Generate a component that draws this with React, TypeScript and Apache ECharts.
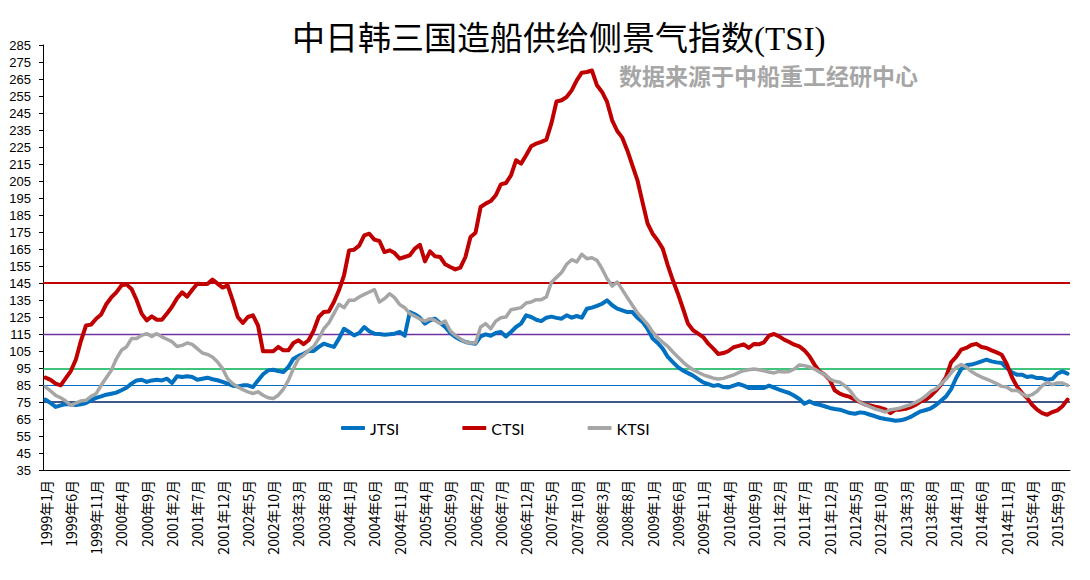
import React, { useEffect, useRef } from "react";
import * as echarts from "echarts";

const startYear = 1999;
const monthCount = 203;
const categories: string[] = [];
for (let i = 0; i < monthCount; i++) {
  categories.push(`${startYear + Math.floor(i / 12)}年${(i % 12) + 1}月`);
}

const jtsi = [
  76.4, 74.4, 72.1, 73, 73.8, 73.6, 73.2, 73.6, 74.4, 76, 77.4, 78.3,
  79.3, 79.9, 80.5, 81.9, 83.4, 85.8, 87.7, 88.1, 86.8, 87.7, 88.1, 87.7,
  88.7, 86.2, 90.1, 89.7, 90.1, 89.7, 88.1, 88.7, 89.3, 88.4, 87.8, 86.8,
  85.8, 84.6, 84.2, 84.8, 84.8, 83.8, 87.7, 91.3, 93.6, 94, 93.2, 92.6,
  95.6, 100.5, 102.1, 103.4, 105, 105, 107.4, 109.3, 108.3, 107.4, 112.3, 118.1,
  116.2, 114.2, 115.6, 119.1, 116.6, 115.2, 115, 114.6, 114.8, 115.2, 116.2, 114,
  127.9, 126.6, 124.6, 121.1, 123, 124, 121.5, 119.1, 115.6, 113.2, 111.7, 110.3,
  109.7, 109.3, 113.6, 114.8, 114, 115.6, 116.2, 113.6, 116.2, 119.1, 121.1, 126,
  125, 123.4, 122.6, 124.6, 125.2, 124.5, 124, 126, 124.6, 125.6, 124.6, 129.9,
  130.5, 131.5, 132.8, 134.8, 131.9, 129.9, 128.9, 127.9, 127.9, 124.6, 122.1, 118.1,
  112.3, 109.7, 106.4, 101.5, 98.5, 95.5, 93.5, 92, 90.5, 88.5, 86.5, 85.5,
  84.5, 85, 83.8, 83.6, 84.6, 85.6, 84.6, 83.2, 83.2, 83.2, 83.2, 84.6,
  83.4, 82.3, 81.3, 80.3, 78.7, 76.8, 74, 75.4, 74, 73.4, 72.5, 71.5,
  70.9, 70.5, 69.5, 68.5, 68.1, 68.9, 68.5, 67.5, 66.6, 65.6, 65, 64.6,
  64, 64.2, 65, 66.2, 67.9, 69.5, 70.3, 71.3, 73.2, 75.8, 78.3, 82.6,
  89.1, 94.4, 96.6, 97, 97.9, 98.9, 99.9, 98.9, 98.3, 97.9, 95, 92.5,
  91.1, 91.1, 89.7, 90.1, 89.1, 89.1, 88.1, 88.5, 91.7, 93, 91.7,
];

const ctsi = [
  89.3, 88, 85.8, 84.8, 89, 93.2, 100, 111, 120, 120.5, 124, 126.5,
  132.5, 136.5, 139.5, 143.5, 144.2, 141.5, 135, 127, 123, 125.4, 123.4, 123.4,
  127, 131, 136, 139.5, 137, 141, 144.6, 144.4, 144.4, 147, 144.6, 142.3,
  143.6, 134.8, 125, 121.5, 125, 126, 120, 104.8, 104.8, 104.8, 107.4, 105.4,
  105.4, 109.7, 111.3, 109, 111.3, 117, 125, 128, 128.3, 133.8, 140.7, 149.5,
  164.2, 164.6, 167, 173, 174, 170.5, 169.7, 163.2, 164.2, 162.6, 159.3, 160.3,
  161.3, 165.2, 167.5, 157.7, 163.6, 160.7, 160.3, 156, 154.4, 153, 154, 160.3,
  172, 174.6, 189.7, 191.7, 193.2, 196.6, 203, 203.8, 208.3, 217.2, 215.2, 220.1,
  225.4, 227, 228, 229.3, 239, 251.8, 252.5, 254.4, 258.3, 264.2, 268.7, 269.1,
  270, 261.3, 257.4, 251.5, 240.7, 234.4, 230.5, 223, 214.2, 205.4, 192.6, 180,
  174, 170, 165.2, 155.4, 146.6, 138.7, 130, 121, 117.2, 115.2, 113.2, 109.3,
  106.4, 103.2, 103.8, 105, 107.2, 108, 108.9, 106.8, 109.1, 108.9, 110.1, 114,
  115, 113.6, 111.7, 110.3, 108.7, 107.7, 105.4, 101.9, 97, 93, 91.1, 88.1,
  81.9, 79.9, 78.8, 78, 76.4, 74.9, 73.5, 72.9, 72.2, 71.6, 70.6, 68.5,
  70.5, 70.5, 71, 72, 73.4, 75.4, 76.4, 78.7, 81.7, 85.2, 89.7, 98.3,
  101.5, 105.8, 106.8, 108.5, 109.2, 107.4, 106.8, 105.4, 104.2, 102.8, 97.4, 89.7,
  84.2, 80.3, 77.4, 73.4, 70.5, 68.5, 67.5, 69.1, 70.1, 72.5, 76.4,
];

const ktsi = [
  83.8, 81.5, 78.9, 77.5, 75.6, 73, 74.4, 75.6, 76, 78.3, 79.9, 84.8,
  89.3, 93.6, 100.4, 105.4, 107.4, 112.3, 112.3, 114.2, 115.2, 113.6, 115.2, 113.3,
  111.9, 110.5, 107.7, 108.3, 109.7, 108.9, 106.4, 103.8, 103, 101.5, 98.5, 94.6,
  88.7, 85.8, 83.8, 82.3, 81, 80, 81, 79, 77.5, 77, 79, 82.5,
  87.7, 94.6, 100.5, 102.5, 105.4, 107.7, 112.3, 118.1, 121.5, 127, 132.5, 130.5,
  134.8, 134.8, 136.8, 138.3, 139.7, 141.1, 133.8, 135.8, 138.7, 136.4, 132.3, 130.5,
  127, 125.4, 123.8, 122.6, 124, 123, 121.1, 122.6, 116.8, 114.2, 112.1, 110.3,
  109.7, 109.7, 119.1, 121.1, 118.1, 122.6, 124.6, 125, 129.3, 129.9, 130.5, 133.2,
  133.8, 135.2, 135.2, 136.8, 145.5, 148.3, 151.2, 156, 158.7, 157.4, 161.9, 159.3,
  159.9, 158.3, 153.4, 147.5, 143.2, 145.6, 141.1, 136.4, 131.9, 127.4, 124, 120.7,
  116.2, 112.8, 110.1, 107.7, 104.4, 101.5, 98.5, 96, 94, 92.5, 91, 90,
  89, 88.5, 88.9, 89.9, 90.9, 92.3, 93.4, 94, 94.4, 94, 93.4, 92.6,
  92.1, 93, 92.6, 93, 94.4, 96.8, 96.4, 95.6, 94.4, 92.6, 91.1, 88.5,
  87.2, 86.6, 84.6, 81.7, 77.7, 74.8, 73.4, 72.1, 70.9, 70.1, 69.1, 70.5,
  70.9, 71.5, 72.5, 73.4, 74.8, 76.4, 78.5, 81.3, 82.8, 85.6, 88.5, 92.1,
  95.4, 97, 95.6, 93, 91.1, 89.7, 88.5, 87.2, 85.8, 84.2, 83.8, 81.7,
  81.9, 79.9, 78.3, 79.3, 81.3, 84.6, 86.6, 85.2, 86.2, 86.2, 84.8,
];

const refValues = [145, 115, 94.5, 85, 75];
const refColors = ["#C00000", "#7030A0", "#00B050", "#0070C0", "#002060"];
const refWidths = [2, 1.3, 1.5, 1, 1.5];

const seriesNames = ["JTSI", "CTSI", "KTSI"];
const seriesColors = ["#0070C0", "#C00000", "#A6A6A6"];

const titleText = "中日韩三国造船供给侧景气指数(TSI)";
const sourceText = "数据来源于中船重工经研中心";

export default function App() {
  const ref = useRef<HTMLDivElement>(null);
  useEffect(() => {
    if (!ref.current) return;
    const chart = echarts.init(ref.current, null, { renderer: "svg" });
    const datas = [jtsi, ctsi, ktsi];
    chart.setOption({
      animation: false,
      backgroundColor: "#ffffff",
      grid: { left: 43, right: 20, top: 45, bottom: 110, containLabel: false },
      legend: {
        data: seriesNames,
        left: 341,
        top: 420,
        padding: 0,
        itemWidth: 24,
        itemHeight: 4,
        itemGap: 63,
        icon: "roundRect",
        textStyle: { fontSize: 16, fontFamily: "Lato", color: "#000" },
      },
      graphic: [
        {
          type: "text",
          left: 292,
          top: 22,
          style: {
            text: titleText,
            font: '33px "Liberation Serif", "Noto Sans CJK SC"',
            fill: "#000",
          },
        },
        {
          type: "text",
          left: 619,
          top: 63,
          style: {
            text: sourceText,
            font: 'bold 23px "Noto Sans CJK SC"',
            fill: "#A6A6A6",
          },
        },
      ],
      xAxis: {
        type: "category",
        data: categories,
        boundaryGap: true,
        axisLine: { lineStyle: { color: "#000", width: 1 } },
        axisTick: { interval: 4, length: 5, lineStyle: { color: "#000" } },
        axisLabel: {
          interval: 4,
          rotate: 90,
          margin: 10,
          fontSize: 14,
          fontFamily: "Noto Sans CJK SC",
          color: "#000",
        },
      },
      yAxis: {
        type: "value",
        min: 35,
        max: 285,
        interval: 10,
        axisLine: { show: true, lineStyle: { color: "#000" } },
        axisTick: { show: true, length: 4, lineStyle: { color: "#000" } },
        splitLine: { show: false },
        axisLabel: { fontSize: 13, fontFamily: "Liberation Sans", color: "#000", margin: 12 },
      },
      series: seriesNames.map((name, k) => ({
        name,
        type: "line",
        data: datas[k],
        symbol: "none",
        z: 3 + k,
        lineStyle: { color: seriesColors[k], width: k === 2 ? 3.5 : 4, join: "round", cap: "round" },
        itemStyle: { color: seriesColors[k] },
        markLine:
          k === 0
            ? {
                silent: true,
                symbol: "none",
                z: 1,
                label: { show: false },
                data: refValues.map((v, j) => ({
                  yAxis: v,
                  lineStyle: { color: refColors[j], width: refWidths[j], type: "solid" },
                })),
              }
            : undefined,
      })),
    });
    return () => chart.dispose();
  }, []);
  return (
    <div
      ref={ref}
      style={{ position: "absolute", left: 0, top: 0, width: 1090, height: 580 }}
    />
  );
}
